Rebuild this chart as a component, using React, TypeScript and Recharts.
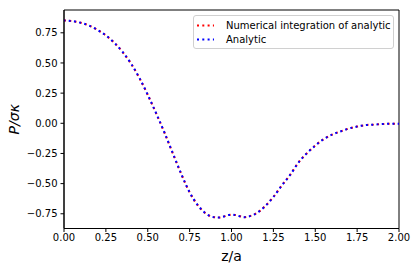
import React from "react";
import { LineChart, Line, XAxis, YAxis, ReferenceArea } from "recharts";

const zValues = [
  0, 0.05, 0.1, 0.15, 0.2, 0.25, 0.3, 0.35, 0.4, 0.45, 0.5, 0.55, 0.6, 0.65, 0.7, 0.75, 0.8, 0.85, 0.9, 0.925, 0.95, 0.975, 1.0,
  1.025, 1.05, 1.075, 1.1, 1.15, 1.2, 1.25, 1.3, 1.35, 1.4, 1.45, 1.5, 1.55, 1.6, 1.65, 1.7, 1.75, 1.8, 1.85, 1.9, 1.95, 2.0,
];
const numericalValues = [
  0.853, 0.847, 0.833, 0.81, 0.774, 0.728, 0.668, 0.591, 0.495, 0.376, 0.236, 0.083, -0.078, -0.25, -0.42, -0.572, -0.681,
  -0.751, -0.779, -0.781, -0.775, -0.763, -0.757, -0.761, -0.771, -0.778, -0.773, -0.745, -0.688, -0.611, -0.516, -0.428,
  -0.325, -0.248, -0.185, -0.132, -0.094, -0.068, -0.044, -0.027, -0.015, -0.011, -0.006, -0.004, -0.003,
];
const analyticValues = [
  0.853, 0.847, 0.833, 0.81, 0.774, 0.728, 0.668, 0.591, 0.495, 0.376, 0.236, 0.083, -0.078, -0.25, -0.42, -0.572, -0.681,
  -0.751, -0.779, -0.781, -0.775, -0.763, -0.757, -0.761, -0.771, -0.778, -0.773, -0.745, -0.688, -0.611, -0.516, -0.428,
  -0.325, -0.248, -0.185, -0.132, -0.094, -0.068, -0.044, -0.027, -0.015, -0.011, -0.006, -0.004, -0.003,
];
const xTicks = [0, 0.25, 0.5, 0.75, 1.0, 1.25, 1.5, 1.75, 2.0];
const yTicks = [-0.75, -0.5, -0.25, 0, 0.25, 0.5, 0.75];
const seriesNames = ["Numerical integration of analytic", "Analytic"];
const seriesColors = ["#ff0000", "#0000ff"];

const data = zValues.map((z, i) => ({ z, num: numericalValues[i], ana: analyticValues[i] }));

const FONT = "DejaVu Sans, sans-serif";
const Y_DOMAIN: [number, number] = [-0.872, 0.939];
const fmt = (v: number) => (v < 0 ? "\u2212" + Math.abs(v).toFixed(2) : v.toFixed(2));

const LegendBox = () => (
  <div
    style={{
      position: "absolute",
      left: 193,
      top: 15,
      width: 201,
      height: 34,
      border: "1px solid #d0d0d0",
      borderRadius: 3,
      background: "rgba(255,255,255,0.8)",
      fontFamily: FONT,
      fontSize: 10,
      color: "#000",
      boxSizing: "border-box",
      paddingTop: 3,
    }}
  >
    {seriesNames.map((n, i) => (
      <div key={n} style={{ display: "flex", alignItems: "center", height: 13.5 }}>
        <svg width={29} height={13} style={{ marginLeft: 3 }}>
          <line x1={0} y1={6.5} x2={17} y2={6.5} stroke={seriesColors[i]} strokeWidth={2} strokeDasharray="2 3.3" />
        </svg>
        <span>{n}</span>
      </div>
    ))}
  </div>
);

export default function App() {
  return (
    <div style={{ position: "absolute", left: 0, top: 0, width: 416, height: 270 }}>
      <LineChart width={416} height={270} data={data} margin={{ top: 10, right: 17, bottom: 0, left: 0 }}>
        <XAxis
          dataKey="z"
          type="number"
          domain={[0, 2]}
          ticks={xTicks}
          tickFormatter={fmt}
          tick={{ fontFamily: FONT, fontSize: 10, fill: "#000" }}
          tickSize={3.5}
          tickMargin={2}
          stroke="#000"
          height={41.5}
          allowDataOverflow
          label={{ value: "z/a", position: "insideBottom", offset: 9, style: { fontFamily: FONT, fontSize: 14, fill: "#000" } }}
        />
        <YAxis
          type="number"
          domain={Y_DOMAIN}
          ticks={yTicks}
          tickFormatter={fmt}
          tick={{ fontFamily: FONT, fontSize: 10, fill: "#000" }}
          tickSize={3.5}
          tickMargin={3}
          stroke="#000"
          width={64}
          allowDataOverflow
          label={{
            value: "P/σκ",
            angle: -90,
            position: "insideLeft",
            offset: 14,
            style: { fontFamily: FONT, fontSize: 14, fontStyle: "italic", fill: "#000", textAnchor: "middle" },
          }}
        />
        <ReferenceArea x1={0} x2={2} y1={Y_DOMAIN[0]} y2={Y_DOMAIN[1]} fill="none" stroke="#000" strokeWidth={1} ifOverflow="visible" />
        <Line
          dataKey="num"
          name={seriesNames[0]}
          type="monotone"
          stroke={seriesColors[0]}
          strokeWidth={2}
          strokeDasharray="2 3.3"
          dot={false}
          isAnimationActive={false}
        />
        <Line
          dataKey="ana"
          name={seriesNames[1]}
          type="monotone"
          stroke={seriesColors[1]}
          strokeWidth={2}
          strokeDasharray="2 3.3"
          strokeDashoffset={0.6}
          dot={false}
          isAnimationActive={false}
        />
      </LineChart>
      <LegendBox />
    </div>
  );
}
